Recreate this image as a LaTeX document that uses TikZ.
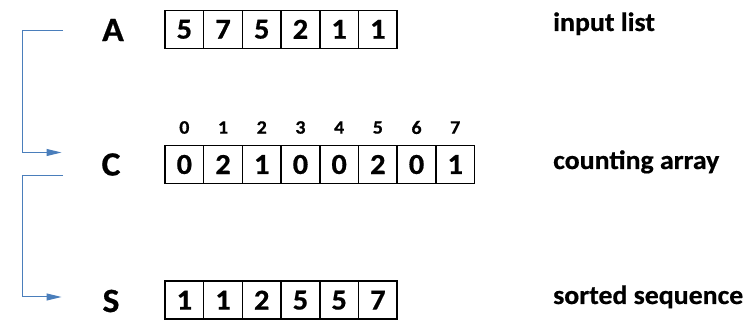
\documentclass[tikz,border=0pt]{standalone}
\usepackage{fontspec}
\setmainfont{Carlito}[FakeStretch=1.05, BoldFeatures={FakeBold=0.6}]
\usetikzlibrary{arrows.meta,calc}
\definecolor{connblue}{RGB}{74,126,187}
\begin{document}
\begin{tikzpicture}[x=1pt,y=-1pt,
  cell/.style={draw, line width=1.5pt, minimum width=38.7pt, minimum height=38pt, inner sep=0pt,
    font=\bfseries\fontsize{29}{29}\selectfont},
  idx/.style={inner sep=0pt, font=\bfseries\fontsize{19}{19}\selectfont},
  letter/.style={inner sep=0pt, font=\bfseries\fontsize{34}{34}\selectfont},
  lbl/.style={inner sep=0pt, anchor=base west, font=\bfseries\fontsize{26.5}{26.5}\selectfont},
  conn/.style={draw=connblue, line width=1pt, -{Triangle[length=15pt,width=7pt]}}]
\useasboundingbox (0,0) rectangle (750,320);
% row A
\node[letter] (A) at (113,30) {A};
\foreach \v [count=\i from 0] in {5,7,5,2,1,1}
  \node[cell] (a\i) at ({165+38.7*(\i+0.5)},29.3) {\v};
\node[lbl] (la) at (553,31) {input list};
% row C
\node[letter] (C) at (111,164.5) {C};
\foreach \v [count=\i from 0] in {0,2,1,0,0,2,0,1}{
  \node[cell] (c\i) at ({165+38.7*(\i+0.5)},164.5) {\v};
  \node[idx] (ci\i) at ({165+38.7*(\i+0.5)},127.5) {\i};
}
\node[lbl] (lc) at (553,169) {counting array};
% row S
\node[letter] (S) at (111,301) {S};
\foreach \v [count=\i from 0] in {1,1,2,5,5,7}
  \node[cell] (s\i) at ({165+38.7*(\i+0.5)},300.2) {\v};
\node[lbl] (ls) at (553,304) {sorted sequence};
% connectors
\coordinate (aout) at (63,31);
\coordinate (cin) at (61.5,152.5);
\coordinate (cout) at (63,175.5);
\coordinate (sin) at (61.5,297);
\draw[conn] (aout) -- ++(-41,0) |- (cin);
\draw[conn] (cout) -- ++(-41,0) |- (sin);
\end{tikzpicture}
\end{document}
